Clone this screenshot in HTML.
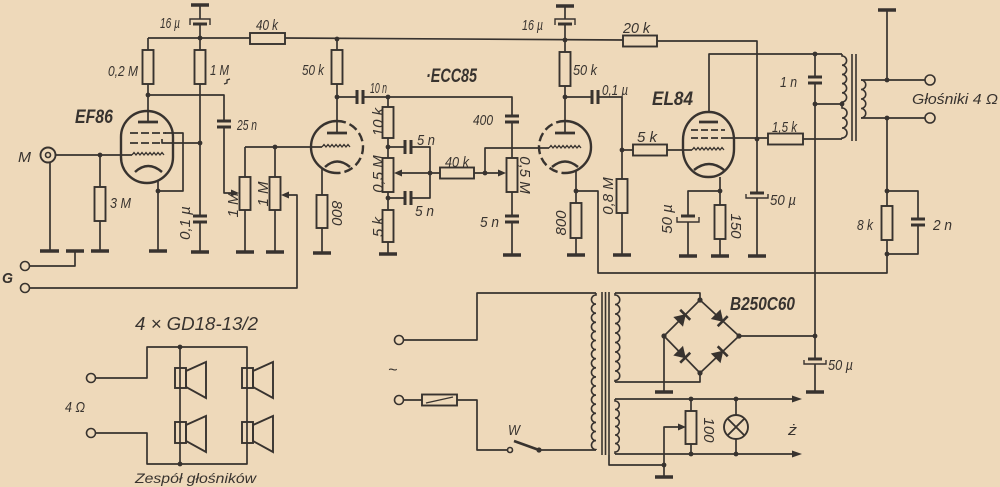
<!DOCTYPE html>
<html><head><meta charset="utf-8"><style>
html,body{margin:0;padding:0;background:#eed9ba;}
svg{display:block;}
text{font-family:"Liberation Sans",sans-serif;font-style:italic;fill:#38332f;}
</style></head><body>
<svg width="1000" height="487" viewBox="0 0 1000 487" xmlns="http://www.w3.org/2000/svg">
<rect width="1000" height="487" fill="#eed9ba"/>
<!-- wires -->
<g stroke="#38332f" stroke-width="1.7" fill="none" stroke-linejoin="round">
<path d="M200,5 V19 M200,24 V50 M148,38 H250 M285,38 L623,40 M148,38 V50 M148,84 V122 M200,84 V216 M200,222 V251"/>
<path d="M148,95 H224 V121 M224,127 V193 H233"/>
<path d="M165,133 H183 V191 H158 M162,139 V143 H200"/>
<path d="M56,155 H132 M100,155 V187 M100,221 V251 M50,163 V251 M75,251 V266 H29 M29,288 H297 V195 H288"/>
<path d="M158,180 V251"/>
<path d="M245,147 V177 M245,210 V251 M275,147 V177 M275,210 V251 M245,147 H322"/>
<path d="M337,40 V50 M337,84 V133 M322,168 V195 M322,228 V253"/>
<path d="M337,97 H357 M363,97 H512 V116 M512,122 V158 M512,192 V216 M512,222 V254"/>
<path d="M388,97 V107 M388,138 V158 M388,192 V210 M388,242 V253"/>
<path d="M388,147 H405 M411,147 H430 V198 H411 M405,198 H388"/>
<path d="M430,173 H401 M430,173 H440 M474,173 H499 M485,173 V148 H549"/>
<path d="M565,6 V19 M565,24 V52 M565,86 V133 M565,97 H592 M598,97 H622 V179 M622,213 V254"/>
<path d="M576,170 V203 M576,238 V254 M576,191 H598 V273 H887 V240"/>
<path d="M622,150 H633 M667,150 H692"/>
<path d="M657,41 H757 V193 M757,198 V256"/>
<path d="M709,112 V54 H842 M815,54 V77 M815,83 V359 M815,364 V392 M815,104 H842"/>
<path d="M720,177 V205 M720,239 V256 M720,191 H688 V216 M688,222 V256"/>
<path d="M725,138 H768 M803,139 H842"/>
<path d="M861,80 H925 M861,118 H925 M887,10 V80 M887,118 V206 M887,191 H918 V219 M918,225 V254 H887"/>
<!-- power supply -->
<path d="M404,340 H477 V293 H596 M404,400 H422 M457,400 H477 V450 H507 M539,450 H596"/>
<path d="M615,293 H700 V300 M615,382 H700 V373"/>
<path d="M700,300 L664,336 L700,373 L739,336 Z M664,336 V392 M739,336 H815"/>
<path d="M615,399 H793 M615,454 H793 M691,399 V411 M691,444 V454 M736,399 V415 M736,439 V454"/>
<path d="M609,455 V465 H664 V477 M664,465 V427 H679"/>
<!-- speakers -->
<path d="M95,378 H147 V347 H247 V464 H147 V433 H95 M180,347 V464"/>
<path d="M224,84 l3,-1 l0,-3 l3,-1" stroke-width="1.3"/>
</g>

<!-- coils -->
<g stroke="#38332f" stroke-width="1.6" fill="none">
<path d="M842,54 V56 a4.6,4.6 0 0 1 0,9.2 a4.6,4.6 0 0 1 0,9.2 a4.6,4.6 0 0 1 0,9.2 a4.6,4.6 0 0 1 0,9.2 a4.6,4.6 0 0 1 0,9.2 V108 a5,5 0 0 1 0,10 a5,5 0 0 1 0,10 a5,5 0 0 1 0,10 V139"/>
<path d="M861,80 a4.75,4.75 0 0 1 0,9.5 a4.75,4.75 0 0 1 0,9.5 a4.75,4.75 0 0 1 0,9.5 a4.75,4.75 0 0 1 0,9.5"/>
<path d="M852,54 V141 M856,54 V141"/>
<path d="M596,293 V295 a4.55,4.55 0 0 0 0,9.1 a4.55,4.55 0 0 0 0,9.1 a4.55,4.55 0 0 0 0,9.1 a4.55,4.55 0 0 0 0,9.1 a4.55,4.55 0 0 0 0,9.1 a4.55,4.55 0 0 0 0,9.1 a4.55,4.55 0 0 0 0,9.1 a4.55,4.55 0 0 0 0,9.1 a4.55,4.55 0 0 0 0,9.1 a4.55,4.55 0 0 0 0,9.1 a4.55,4.55 0 0 0 0,9.1 a4.55,4.55 0 0 0 0,9.1 a4.55,4.55 0 0 0 0,9.1 a4.55,4.55 0 0 0 0,9.1 a4.55,4.55 0 0 0 0,9.1 a4.55,4.55 0 0 0 0,9.1 a4.55,4.55 0 0 0 0,9.1 V450"/>
<path d="M615,293 V295 a4.75,4.75 0 0 1 0,9.5 a4.75,4.75 0 0 1 0,9.5 a4.75,4.75 0 0 1 0,9.5 a4.75,4.75 0 0 1 0,9.5 a4.75,4.75 0 0 1 0,9.5 a4.75,4.75 0 0 1 0,9.5 a4.75,4.75 0 0 1 0,9.5 a4.75,4.75 0 0 1 0,9.5 a4.75,4.75 0 0 1 0,9.5 V382"/>
<path d="M615,399 V401 a4.25,4.25 0 0 1 0,8.5 a4.25,4.25 0 0 1 0,8.5 a4.25,4.25 0 0 1 0,8.5 a4.25,4.25 0 0 1 0,8.5 a4.25,4.25 0 0 1 0,8.5 a4.25,4.25 0 0 1 0,8.5 V454"/>
<path d="M602,292 V455 M605.5,292 V455 M609,292 V455"/>
</g>

<!-- resistors -->
<g stroke="#38332f" stroke-width="1.9" fill="none">
<rect x="250" y="33" width="35" height="11"/>
<rect x="142.5" y="50" width="11" height="34"/>
<rect x="194.5" y="50" width="11" height="34"/>
<rect x="94.5" y="187" width="11" height="34"/>
<rect x="239.5" y="177" width="11" height="33"/>
<rect x="269.5" y="177" width="11" height="33"/>
<rect x="331.5" y="50" width="11" height="34"/>
<rect x="316.5" y="195" width="11" height="33"/>
<rect x="382.5" y="107" width="11" height="31"/>
<rect x="382.5" y="158" width="11" height="34"/>
<rect x="382.5" y="210" width="11" height="32"/>
<rect x="440" y="167.5" width="34" height="11"/>
<rect x="506.5" y="158" width="11" height="34"/>
<rect x="559.5" y="52" width="11" height="34"/>
<rect x="570.5" y="203" width="11" height="35"/>
<rect x="616.5" y="179" width="11" height="34"/>
<rect x="623" y="35.5" width="34" height="11"/>
<rect x="633" y="144.5" width="34" height="11"/>
<rect x="714.5" y="205" width="11" height="34"/>
<rect x="768" y="133.5" width="35" height="11"/>
<rect x="881.5" y="206" width="11" height="34"/>
<rect x="685.5" y="411" width="11" height="33"/>
<rect x="422" y="394.5" width="35" height="11"/>
<path d="M426,403 L453,397" stroke-width="1.3"/>
</g>

<!-- capacitors -->
<g stroke="#38332f" stroke-width="3" fill="none">
<path d="M193,216 H207 M193,222 H207"/>
<path d="M217,121 H231 M217,127 H231"/>
<path d="M357,90 V104 M363,90 V104"/>
<path d="M405,140 V154 M411,140 V154 M405,191 V205 M411,191 V205"/>
<path d="M505,116 H519 M505,122 H519 M505,216 H519 M505,222 H519"/>
<path d="M592,90 V104 M598,90 V104"/>
<path d="M808,77 H822 M808,83 H822"/>
<path d="M911,219 H925 M911,225 H925"/>
<path d="M193,24 H207 M558,24 H572 M750,193 H764 M681,216 H695 M808,359 H822"/>
</g>
<g stroke="#38332f" stroke-width="1.4" fill="none">
<path d="M190,25 V19 H210 V25 M555,25 V19 H575 V25"/>
<path d="M746,194 V198 H768 V194 M677,217 V222 H699 V217 M804,360 V364 H826 V360"/>
</g>

<!-- ground bars -->
<g stroke="#38332f" stroke-width="3.5" fill="none">
<path d="M191,5 H209 M40,251 H59 M66,251 H84 M91,251 H109 M149,251 H167 M191,252 H209 M236,252 H254 M266,252 H284 M313,253 H331 M379,254 H397 M503,255 H521 M556,6 H574 M567,255 H585 M613,255 H631 M679,256 H697 M711,256 H729 M748,256 H766 M878,10 H896 M655,392 H673 M806,392 H824 M655,477 H673"/>
</g>

<!-- tubes -->
<g stroke="#38332f" fill="none">
<rect x="121" y="111" width="52" height="72" rx="26" ry="26" stroke-width="2.4"/>
<path d="M138,122 H158" stroke-width="2.8"/>
<path d="M130,133 H166 M130,143 H162" stroke-width="1.7" stroke-dasharray="8,3"/>
<path d="M132,155 l2,-2.5l2,2.5l2,-2.5l2,2.5l2,-2.5l2,2.5l2,-2.5l2,2.5l2,-2.5l2,2.5l2,-2.5l2,2.5l2,-2.5l2,2.5l2,-2.5l2,2.5" stroke-width="1.3"/>
<path d="M135,172 Q148,160 162,172" stroke-width="2.5"/>

<path d="M337,121 A26,26 0 0 0 337,173" stroke-width="2.4"/>
<path d="M337,121 A26,26 0 0 1 337,173" stroke-width="2.4" stroke-dasharray="9,4"/>
<path d="M327,133 H347" stroke-width="2.8"/>
<path d="M322,147 l2,-2.5l2,2.5l2,-2.5l2,2.5l2,-2.5l2,2.5l2,-2.5l2,2.5l2,-2.5l2,2.5l2,-2.5l2,2.5l2,-2.5l2,2.5" stroke-width="1.3"/>
<path d="M325,167 Q337,156 350,167" stroke-width="2.5"/>

<path d="M565,121 A26,26 0 0 1 565,173" stroke-width="2.4"/>
<path d="M565,121 A26,26 0 0 0 565,173" stroke-width="2.4" stroke-dasharray="9,4"/>
<path d="M555,133 H575" stroke-width="2.8"/>
<path d="M549,148 l2,-2.5l2,2.5l2,-2.5l2,2.5l2,-2.5l2,2.5l2,-2.5l2,2.5l2,-2.5l2,2.5l2,-2.5l2,2.5l2,-2.5l2,2.5l2,-2.5l2,2.5" stroke-width="1.3"/>
<path d="M552,167 Q565,156 578,167" stroke-width="2.5"/>

<rect x="683" y="112" width="51" height="65" rx="25" ry="28" stroke-width="2.4"/>
<path d="M699,122 H718" stroke-width="2.8"/>
<path d="M691,130 H725 M691,138 H725" stroke-width="1.7" stroke-dasharray="7,3"/>
<path d="M692,150 l2,-2.5l2,2.5l2,-2.5l2,2.5l2,-2.5l2,2.5l2,-2.5l2,2.5l2,-2.5l2,2.5l2,-2.5l2,2.5l2,-2.5l2,2.5l2,-2.5l2,2.5" stroke-width="1.3"/>
<path d="M694,170 Q709,158 724,170" stroke-width="2.5"/>
</g>

<path d="M514,441 L539,450" stroke="#38332f" stroke-width="2.6" fill="none"/>

<g stroke="#38332f" stroke-width="1.9" fill="none">
<circle cx="736" cy="427" r="12"/>
<path d="M727.5,418.5 L744.5,435.5 M744.5,418.5 L727.5,435.5"/>
</g>

<g fill="#38332f" stroke="#38332f" stroke-width="1">
<polygon points="682.7,325.7 674.3,317.3 685.2,314.8"/>
<polygon points="720.2,310.3 711.8,318.7 722.7,321.2"/>
<polygon points="682.7,346.8 674.3,355.2 685.2,357.7"/>
<polygon points="720.2,362.2 711.8,353.8 722.7,351.3"/>
</g>
<g stroke="#38332f" stroke-width="2.6" fill="none">
<path d="M690.2,319.8 L680.2,309.8 M727.7,316.2 L717.7,326.2 M690.2,352.7 L680.2,362.7 M727.7,356.3 L717.7,346.3"/>
</g>

<g stroke="#38332f" stroke-width="1.9" fill="none">
<rect x="175" y="368" width="11" height="20"/>
<polygon points="186,371 206,362 206,398 186,387"/>
<rect x="175" y="422" width="11" height="21"/>
<polygon points="186,425 206,416 206,452 186,441"/>
<rect x="242" y="368" width="11" height="20"/>
<polygon points="253,371 273,362 273,398 253,387"/>
<rect x="242" y="422" width="11" height="21"/>
<polygon points="253,425 273,416 273,452 253,441"/>
</g>

<g fill="#38332f">
<polygon points="239,193 231,189.5 231,196.5"/>
<polygon points="281,195 289,191.5 289,198.5"/>
<polygon points="394,173 402,169.5 402,176.5"/>
<polygon points="506,173 498,169.5 498,176.5"/>
<polygon points="686,427 678,423.5 678,430.5"/>
<polygon points="802,399 792,395.5 792,402.5"/>
<polygon points="802,454 792,450.5 792,457.5"/>
</g>

<g fill="#38332f">
<circle cx="200" cy="38" r="2.4"/><circle cx="337" cy="39" r="2.4"/><circle cx="565" cy="40" r="2.4"/>
<circle cx="148" cy="95" r="2.4"/><circle cx="200" cy="143" r="2.4"/><circle cx="100" cy="155" r="2.4"/>
<circle cx="158" cy="191" r="2.4"/><circle cx="275" cy="147" r="2.4"/><circle cx="337" cy="97" r="2.4"/>
<circle cx="388" cy="97" r="2.4"/><circle cx="388" cy="147" r="2.4"/><circle cx="388" cy="198" r="2.4"/>
<circle cx="430" cy="173" r="2.4"/><circle cx="485" cy="173" r="2.4"/><circle cx="565" cy="97" r="2.4"/>
<circle cx="622" cy="150" r="2.4"/><circle cx="576" cy="191" r="2.4"/><circle cx="757" cy="139" r="2.4"/>
<circle cx="720" cy="191" r="2.4"/><circle cx="815" cy="54" r="2.4"/><circle cx="815" cy="104" r="2.4"/>
<circle cx="842" cy="104" r="2.4"/><circle cx="887" cy="80" r="2.4"/><circle cx="887" cy="118" r="2.4"/>
<circle cx="887" cy="191" r="2.4"/><circle cx="887" cy="254" r="2.4"/>
<circle cx="700" cy="300" r="2.6"/><circle cx="664" cy="336" r="2.6"/><circle cx="739" cy="336" r="2.6"/><circle cx="700" cy="373" r="2.6"/>
<circle cx="815" cy="336" r="2.4"/><circle cx="691" cy="399" r="2.4"/><circle cx="736" cy="399" r="2.4"/>
<circle cx="691" cy="454" r="2.4"/><circle cx="736" cy="454" r="2.4"/><circle cx="664" cy="465" r="2.4"/>
<circle cx="539" cy="450" r="2.6"/><circle cx="180" cy="347" r="2.4"/><circle cx="180" cy="464" r="2.4"/>
</g>

<g stroke="#38332f" stroke-width="1.6" fill="#eed9ba">
<circle cx="25" cy="266" r="4.5"/><circle cx="25" cy="288" r="4.5"/>
<circle cx="930" cy="80" r="5"/><circle cx="930" cy="118" r="5"/>
<circle cx="399" cy="340" r="4.5"/><circle cx="399" cy="400" r="4.5"/>
<circle cx="91" cy="378" r="4.5"/><circle cx="91" cy="433" r="4.5"/>
<circle cx="510" cy="450" r="2.5"/>
<circle cx="48" cy="155" r="7.5" stroke-width="1.9"/><circle cx="48" cy="155" r="2.5"/>
</g>

<g font-size="15">
<text x="160" y="28" textLength="20" lengthAdjust="spacingAndGlyphs">16 µ</text>
<text x="256" y="30" textLength="22" lengthAdjust="spacingAndGlyphs">40 k</text>
<text x="108" y="76" textLength="30" lengthAdjust="spacingAndGlyphs">0,2 M</text>
<text x="210" y="75" textLength="19" lengthAdjust="spacingAndGlyphs">1 M</text>
<text x="237" y="130" textLength="20" lengthAdjust="spacingAndGlyphs">25 n</text>
<text x="110" y="208" textLength="21" lengthAdjust="spacingAndGlyphs">3 M</text>
<text x="18" y="162" textLength="13" lengthAdjust="spacingAndGlyphs">M</text>
<text x="2" y="283" font-weight="bold" textLength="11" lengthAdjust="spacingAndGlyphs">G</text>
<text x="75" y="123" font-size="19" font-weight="bold" textLength="38" lengthAdjust="spacingAndGlyphs">EF86</text>
<text x="238" y="205" text-anchor="middle" transform="rotate(-90 238 205)">1 M</text>
<text x="268" y="194" text-anchor="middle" transform="rotate(-90 268 194)">1 M</text>
<text x="190" y="223" text-anchor="middle" transform="rotate(-90 190 223)">0,1 µ</text>
<text x="302" y="75" textLength="22" lengthAdjust="spacingAndGlyphs">50 k</text>
<text x="332" y="213" text-anchor="middle" transform="rotate(90 332 213)">800</text>
<text x="370" y="93" textLength="17" lengthAdjust="spacingAndGlyphs">10 n</text>
<text x="426" y="82" font-size="19" font-weight="bold" textLength="51" lengthAdjust="spacingAndGlyphs">·ECC85</text>
<text x="383" y="122" text-anchor="middle" transform="rotate(-90 383 122)">10 k</text>
<text x="383" y="174" text-anchor="middle" transform="rotate(-90 383 174)">0,5 M</text>
<text x="383" y="227" text-anchor="middle" transform="rotate(-90 383 227)">5 k</text>
<text x="417" y="145" textLength="18" lengthAdjust="spacingAndGlyphs">5 n</text>
<text x="415" y="216" textLength="19" lengthAdjust="spacingAndGlyphs">5 n</text>
<text x="445" y="167" textLength="24" lengthAdjust="spacingAndGlyphs">40 k</text>
<text x="473" y="125" textLength="20" lengthAdjust="spacingAndGlyphs">400</text>
<text x="520" y="175" text-anchor="middle" transform="rotate(90 520 175)">0,5 M</text>
<text x="480" y="227" textLength="19" lengthAdjust="spacingAndGlyphs">5 n</text>
<text x="522" y="30" textLength="21" lengthAdjust="spacingAndGlyphs">16 µ</text>
<text x="573" y="75" textLength="24" lengthAdjust="spacingAndGlyphs">50 k</text>
<text x="602" y="95" textLength="26" lengthAdjust="spacingAndGlyphs">0,1 µ</text>
<text x="566" y="223" text-anchor="middle" transform="rotate(-90 566 223)">800</text>
<text x="613" y="196" text-anchor="middle" transform="rotate(-90 613 196)">0,8 M</text>
<text x="623" y="33" textLength="27" lengthAdjust="spacingAndGlyphs">20 k</text>
<text x="652" y="105" font-size="19" font-weight="bold" textLength="41" lengthAdjust="spacingAndGlyphs">EL84</text>
<text x="637" y="142" textLength="20" lengthAdjust="spacingAndGlyphs">5 k</text>
<text x="772" y="132" textLength="25" lengthAdjust="spacingAndGlyphs">1,5 k</text>
<text x="780" y="87" textLength="17" lengthAdjust="spacingAndGlyphs">1 n</text>
<text x="672" y="219" text-anchor="middle" transform="rotate(-90 672 219)">50 µ</text>
<text x="731" y="226" text-anchor="middle" transform="rotate(90 731 226)">150</text>
<text x="770" y="205" textLength="26" lengthAdjust="spacingAndGlyphs">50 µ</text>
<text x="857" y="230" textLength="16" lengthAdjust="spacingAndGlyphs">8 k</text>
<text x="933" y="230" textLength="19" lengthAdjust="spacingAndGlyphs">2 n</text>
<text x="912" y="104" textLength="86" lengthAdjust="spacingAndGlyphs">Głośniki  4 Ω</text>
<text x="730" y="310" font-size="18" font-weight="bold" textLength="65" lengthAdjust="spacingAndGlyphs">B250C60</text>
<text x="828" y="370" textLength="25" lengthAdjust="spacingAndGlyphs">50 µ</text>
<text x="388" y="375" font-size="16" font-style="normal">~</text>
<text x="508" y="435" textLength="12" lengthAdjust="spacingAndGlyphs">W</text>
<text x="704" y="430" text-anchor="middle" transform="rotate(90 704 430)">100</text>
<text x="788" y="435" textLength="9" lengthAdjust="spacingAndGlyphs">ż</text>
<text x="135" y="330" font-size="18" textLength="123" lengthAdjust="spacingAndGlyphs">4 × GD18-13/2</text>
<text x="65" y="412" textLength="20" lengthAdjust="spacingAndGlyphs">4 Ω</text>
<text x="135" y="483" font-size="14" textLength="121" lengthAdjust="spacingAndGlyphs">Zespół  głośników</text>
</g>
</svg>
</body></html>
